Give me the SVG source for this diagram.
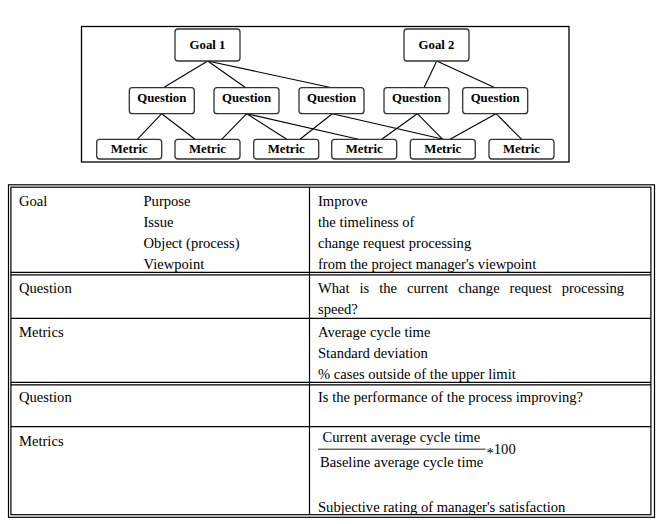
<svg xmlns="http://www.w3.org/2000/svg" width="666" height="524" viewBox="0 0 666 524">
  <style>
    .frame { fill: none; stroke: #000; stroke-width: 1.3; }
    .node rect { fill: #fff; stroke: #333; stroke-width: 1.3; }
    .node text { font-family: "Liberation Serif", "Times New Roman", serif; font-weight: bold; font-size: 12.8px; fill: #000; text-anchor: middle; }
    .edges line { stroke: #000; stroke-width: 1.1; }
    .rule { stroke: #000; stroke-width: 1.2; fill: none; }
    .cell { font-family: "Liberation Serif", "Times New Roman", serif; font-size: 14.6px; fill: #000; }
  </style>

  <rect width="666" height="524" fill="#fff"/>

  <!-- GQM hierarchy -->
  <rect class="frame" x="81.5" y="26.5" width="487.5" height="135.5"/>

  <g class="edges">
    <line x1="207.7" y1="61" x2="163.3" y2="87.7"/>
    <line x1="207.7" y1="61" x2="245.7" y2="87.7"/>
    <line x1="207.7" y1="61" x2="331.7" y2="87.7"/>
    <line x1="436.7" y1="61" x2="424" y2="87.7"/>
    <line x1="436.7" y1="61" x2="495" y2="87.7"/>
    <line x1="161.7" y1="113.7" x2="137.3" y2="139.3"/>
    <line x1="161.7" y1="113.7" x2="195" y2="139.3"/>
    <line x1="246.7" y1="113.7" x2="221.7" y2="139.3"/>
    <line x1="246.7" y1="113.7" x2="286.7" y2="139.3"/>
    <line x1="246.7" y1="113.7" x2="358.3" y2="139.3"/>
    <line x1="332.3" y1="113.7" x2="300" y2="139.3"/>
    <line x1="332.3" y1="113.7" x2="443.3" y2="139.3"/>
    <line x1="417.3" y1="113.7" x2="381.7" y2="139.3"/>
    <line x1="417.3" y1="113.7" x2="442.7" y2="139.3"/>
    <line x1="496" y1="113.7" x2="450" y2="139.3"/>
    <line x1="496" y1="113.7" x2="521.7" y2="139.3"/>
  </g>

  <g id="goal1" class="node"><rect x="175" y="29" width="65" height="32" rx="3"/><text x="207.5" y="48.6">Goal 1</text></g>
  <g id="goal2" class="node"><rect x="404" y="29" width="65" height="32" rx="3"/><text x="436.5" y="48.6">Goal 2</text></g>

  <g id="question1" class="node"><rect x="129.3" y="87.7" width="65" height="26" rx="3"/><text x="161.8" y="101.5">Question</text></g>
  <g id="question2" class="node"><rect x="214" y="87.7" width="65" height="26" rx="3"/><text x="246.5" y="101.5">Question</text></g>
  <g id="question3" class="node"><rect x="299" y="87.7" width="65" height="26" rx="3"/><text x="331.5" y="101.5">Question</text></g>
  <g id="question4" class="node"><rect x="384" y="87.7" width="65" height="26" rx="3"/><text x="416.5" y="101.5">Question</text></g>
  <g id="question5" class="node"><rect x="462.7" y="87.7" width="65" height="26" rx="3"/><text x="495.2" y="101.5">Question</text></g>

  <g id="metric1" class="node"><rect x="96.7" y="139.3" width="65" height="19.7" rx="3"/><text x="129.2" y="152.8">Metric</text></g>
  <g id="metric2" class="node"><rect x="175" y="139.3" width="65" height="19.7" rx="3"/><text x="207.5" y="152.8">Metric</text></g>
  <g id="metric3" class="node"><rect x="253.7" y="139.3" width="65" height="19.7" rx="3"/><text x="286.2" y="152.8">Metric</text></g>
  <g id="metric4" class="node"><rect x="331.7" y="139.3" width="65" height="19.7" rx="3"/><text x="364.2" y="152.8">Metric</text></g>
  <g id="metric5" class="node"><rect x="410.3" y="139.3" width="65" height="19.7" rx="3"/><text x="442.8" y="152.8">Metric</text></g>
  <g id="metric6" class="node"><rect x="489" y="139.3" width="65" height="19.7" rx="3"/><text x="521.5" y="152.8">Metric</text></g>

  <!-- GQM example table -->
  <g id="table">
    <rect class="rule" x="8.5" y="184.8" width="646" height="332.5"/>
    <rect class="rule" x="10.9" y="187.2" width="640" height="327.5"/>
    <line class="rule" x1="309.5" y1="187.2" x2="309.5" y2="514.7"/>
    <line class="rule" x1="10.9" y1="272.4" x2="650.9" y2="272.4"/>
    <line class="rule" x1="10.9" y1="274.8" x2="650.9" y2="274.8"/>
    <line class="rule" x1="10.9" y1="318.3" x2="650.9" y2="318.3"/>
    <line class="rule" x1="10.9" y1="382.4" x2="650.9" y2="382.4"/>
    <line class="rule" x1="10.9" y1="384.9" x2="650.9" y2="384.9"/>
    <line class="rule" x1="10.9" y1="426.7" x2="650.9" y2="426.7"/>

    <g class="cell">
      <text x="19" y="205.5">Goal</text>
      <text x="143.5" y="205.5">Purpose</text>
      <text x="143.5" y="226.8">Issue</text>
      <text x="143.5" y="248">Object (process)</text>
      <text x="143.5" y="269.2">Viewpoint</text>
      <text x="318" y="205.5">Improve</text>
      <text x="318" y="226.8">the timeliness of</text>
      <text x="318" y="248">change request processing</text>
      <text x="318" y="269.2">from the project manager's viewpoint</text>

      <text x="19" y="293.2">Question</text>
      <text x="318" y="293.2" word-spacing="6.3">What is the current change request processing</text>
      <text x="318" y="314.4">speed?</text>

      <text x="19" y="336.5">Metrics</text>
      <text x="318" y="336.5">Average cycle time</text>
      <text x="318" y="357.7">Standard deviation</text>
      <text x="318" y="378.9">% cases outside of the upper limit</text>

      <text x="19" y="401.5">Question</text>
      <text x="318" y="401.5">Is the performance of the process improving?</text>

      <text x="19" y="446">Metrics</text>
      <text x="322.5" y="442">Current average cycle time</text>
      <line x1="318" y1="449.3" x2="485.5" y2="449.3" stroke="#6a6a6a" stroke-width="1.4"/>
      <text x="320" y="466.5">Baseline average cycle time</text>
      <text x="486.5" y="454"><tspan dy="3.5">*</tspan><tspan dy="-3.5">100</tspan></text>
      <text x="318" y="511.5">Subjective rating of manager's satisfaction</text>
    </g>
  </g>
</svg>
